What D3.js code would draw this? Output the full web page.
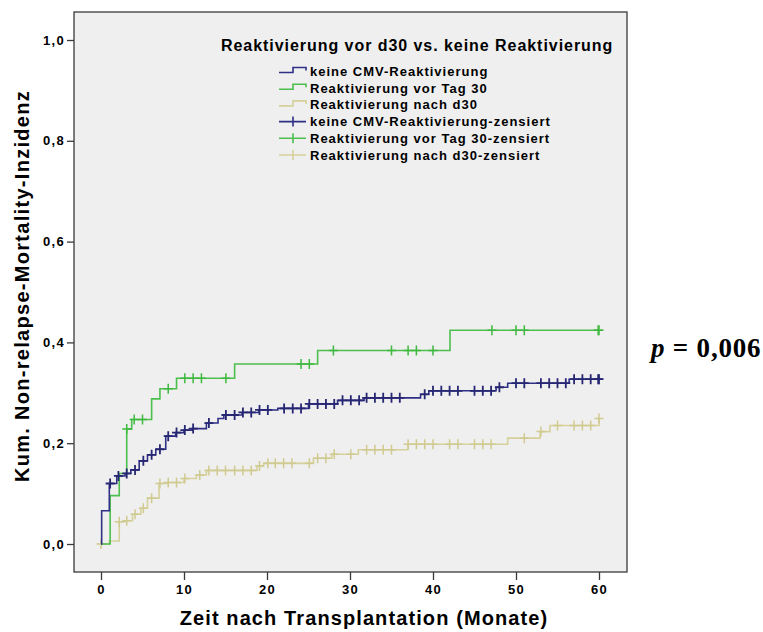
<!DOCTYPE html>
<html>
<head>
<meta charset="utf-8">
<script src="https://cdn.jsdelivr.net/npm/d3@7/dist/d3.min.js"></script>
<style>
  html, body { margin: 0; padding: 0; background: #ffffff; }
  svg { display: block; }
  text { font-family: "Liberation Sans", Arial, Helvetica, sans-serif; font-weight: bold; fill: #000; }
</style>
</head>
<body>
<svg id="chart" width="763" height="632"></svg>
<script>
// ---- data -------------------------------------------------------------
const xTicks = [0, 10, 20, 30, 40, 50, 60];
const yTicks = [0, 0.2, 0.4, 0.6, 0.8, 1.0];

const legendTitle = "Reaktivierung vor d30 vs. keine Reaktivierung";
const groupNames = ["keine CMV-Reaktivierung", "Reaktivierung vor Tag 30", "Reaktivierung nach d30"];
const censorSuffix = "-zensiert";
const xTitle = "Zeit nach Transplantation (Monate)";
const yTitle = "Kum. Non-relapse-Mortality-Inzidenz";
const pLabel = "0,006";

// keine CMV-Reaktivierung: event times (months), cumulative incidence after each event, censored times
const noneTimes  = [0.08, 1.0, 1.9, 2.9, 3.6, 4.6, 5.6, 6.6, 7.8, 9.0, 10.0, 11.0, 12.7, 14.1, 14.8, 17.0, 19.0, 21.3, 25.0, 28.5, 31.7, 38.5, 39.5, 47.6, 49.0, 56.4];
const noneValues = [0.066, 0.120, 0.135, 0.140, 0.147, 0.165, 0.177, 0.188, 0.214, 0.221, 0.226, 0.229, 0.240, 0.249, 0.256, 0.261, 0.266, 0.269, 0.278, 0.285, 0.290, 0.297, 0.304, 0.311, 0.319, 0.327];
const noneCensored = [1.1, 2.1, 3.1, 4.1, 5.1, 6.1, 7.1, 8.1, 9.1, 10.1, 11.1, 13.0, 15.05, 16.1, 17.1, 18.1, 19.1, 20.1, 22.06, 23.1, 24.1, 25.1, 26.1, 27.1, 28.1, 29.1, 30.1, 31.1, 32, 33, 34, 35, 36, 39, 40, 41, 42, 43, 45, 46, 47, 48, 50, 51, 53, 54, 55, 56, 57, 58, 59, 59.9, 60];

// Reaktivierung vor Tag 30
const earlyTimes  = [1.1, 2.2, 3.1, 3.7, 6.1, 7.1, 9.1, 16.1, 26.1, 42.05];
const earlyValues = [0.096, 0.140, 0.228, 0.247, 0.288, 0.308, 0.329, 0.357, 0.384, 0.424];
const earlyCensored = [3.1, 4.0, 5.0, 8.1, 10.1, 11.1, 12.1, 15.05, 24.1, 25.1, 28.0, 35.0, 37.0, 38.0, 40.0, 47.1, 50.0, 51.0, 59.9, 60];

// Reaktivierung nach d30
const lateTimes  = [1.0, 2.2, 3.0, 3.8, 4.8, 5.6, 7.0, 8.0, 10.0, 11.5, 12.7, 18.8, 19.6, 25.6, 27.8, 31.0, 37.0, 49.0, 52.9, 54.1, 60.0];
const lateValues = [0.006, 0.044, 0.046, 0.059, 0.071, 0.091, 0.120, 0.122, 0.130, 0.137, 0.146, 0.155, 0.160, 0.170, 0.178, 0.187, 0.198, 0.210, 0.223, 0.235, 0.249];
const lateCensored = [0.0, 2.2, 3.1, 4.1, 5.1, 6.1, 7.1, 8.1, 9.1, 10.1, 11.9, 13.0, 14.0, 15.0, 16.1, 17.1, 18.1, 19.1, 20.1, 21.0, 22.0, 23.0, 25.1, 26.1, 27.1, 28.1, 30.1, 32, 33, 34, 35, 37, 38, 39, 40, 42, 43, 45, 46, 47, 51, 53, 55, 57, 58, 59, 60];

const groupColors  = ["#2f2f86", "#4cbf4c", "#d6d19b"];
const censorColors = ["#262672", "#3fb83f", "#d0ca90"];

// ---- layout -----------------------------------------------------------
const frame = { left: 74, right: 627, top: 12, bottom: 572 };
const svg = d3.select("#chart");

const x = d3.scaleLinear().domain([0, 60]).range([101, 599]);
const y = d3.scaleLinear().domain([0, 1]).range([544, 40]);

// plot area
svg.append("rect")
  .attr("x", frame.left).attr("y", frame.top)
  .attr("width", frame.right - frame.left).attr("height", frame.bottom - frame.top)
  .attr("fill", "#efefef")
  .attr("stroke", "#3a3a3a").attr("stroke-width", 1.3);

// axes
const fmt = d => d3.format(".1f")(d).replace(".", ",");
const yAxis = svg.append("g")
  .attr("transform", `translate(${frame.left},0)`)
  .call(d3.axisLeft(y).tickValues(yTicks).tickFormat(fmt).tickSize(7).tickPadding(2));
const xAxis = svg.append("g")
  .attr("transform", `translate(0,${frame.bottom})`)
  .call(d3.axisBottom(x).tickValues(xTicks).tickFormat(d3.format("d")).tickSize(8).tickPadding(5));
[yAxis, xAxis].forEach(g => {
  g.select(".domain").remove();
  g.selectAll(".tick line").attr("stroke", "#3a3a3a").attr("stroke-width", 1.3);
  g.selectAll(".tick text")
    .style("font-family", '"Liberation Sans", Arial, sans-serif')
    .style("font-weight", "bold").style("font-size", "13px")
    .style("letter-spacing", "1.3px").attr("fill", "#000");
});

// axis titles
svg.append("text")
  .attr("x", 364).attr("y", 625)
  .attr("text-anchor", "middle")
  .style("font-size", "20px").style("letter-spacing", "1.1px")
  .text(xTitle);
svg.append("text")
  .attr("transform", "translate(29,286) rotate(-90)")
  .attr("text-anchor", "middle")
  .style("font-size", "20px").style("letter-spacing", "1.3px")
  .text(yTitle);

// ---- curves -----------------------------------------------------------
const groups = [
  { times: noneTimes,  values: noneValues,  censored: noneCensored },
  { times: earlyTimes, values: earlyValues, censored: earlyCensored },
  { times: lateTimes,  values: lateValues,  censored: lateCensored }
];

const stepLine = d3.line()
  .x(d => x(d[0])).y(d => y(d[1]))
  .curve(d3.curveStepAfter);

function valueAt(g, t) {
  let v = 0;
  g.times.forEach((tt, i) => { if (tt <= t) v = g.values[i]; });
  return v;
}

// draw in back-to-front order: late, early, none
[2, 1, 0].forEach(i => {
  const g = groups[i];
  const pts = [[0, 0]].concat(g.times.map((t, k) => [t, g.values[k]]));
  pts.push([60, g.values[g.values.length - 1]]);
  svg.append("path")
    .attr("d", stepLine(pts))
    .attr("fill", "none")
    .attr("stroke", groupColors[i])
    .attr("stroke-width", 1.6);

  svg.append("g").selectAll("path")
    .data(g.censored)
    .join("path")
    .attr("d", t => {
      const cx = x(t), cy = y(valueAt(g, t));
      return `M${cx - 4.5},${cy}H${cx + 4.5}M${cx},${cy - 5}V${cy + 5}`;
    })
    .attr("fill", "none")
    .attr("stroke", censorColors[i])
    .attr("stroke-width", i === 0 ? 1.8 : 1.5);
});

// ---- legend -----------------------------------------------------------
const legend = svg.append("g");
legend.append("text")
  .attr("x", 221).attr("y", 51)
  .style("font-size", "16px").style("letter-spacing", "0.95px")
  .text(legendTitle);

const rowY0 = 71.5, rowStep = 16.7;
const entries = groupNames.map((n, i) => ({ label: n, color: groupColors[i], censor: false }))
  .concat(groupNames.map((n, i) => ({ label: n + censorSuffix, color: groupColors[i], censor: true })));

entries.forEach((e, k) => {
  const cy = rowY0 + k * rowStep;
  if (!e.censor) {
    legend.append("path")
      .attr("d", `M279,${cy + 1}H293V${cy - 4}H306V${cy - 1}`)
      .attr("fill", "none").attr("stroke", e.color).attr("stroke-width", 1.6);
  } else {
    legend.append("path")
      .attr("d", `M279,${cy}H306M293,${cy - 5}V${cy + 5}`)
      .attr("fill", "none").attr("stroke", e.color).attr("stroke-width", 1.6);
  }
  legend.append("text")
    .attr("x", 310).attr("y", cy + 4.5)
    .style("font-size", "13px").style("letter-spacing", "1px")
    .text(e.label);
});

// ---- significance label -------------------------------------------------
const pText = svg.append("text")
  .attr("x", 651).attr("y", 357)
  .style("font-family", '"Liberation Serif", "Times New Roman", serif')
  .style("font-size", "27px").style("letter-spacing", "0.8px");
pText.append("tspan").style("font-style", "italic").text("p");
pText.append("tspan").text(" = " + pLabel);
</script>
</body>
</html>
